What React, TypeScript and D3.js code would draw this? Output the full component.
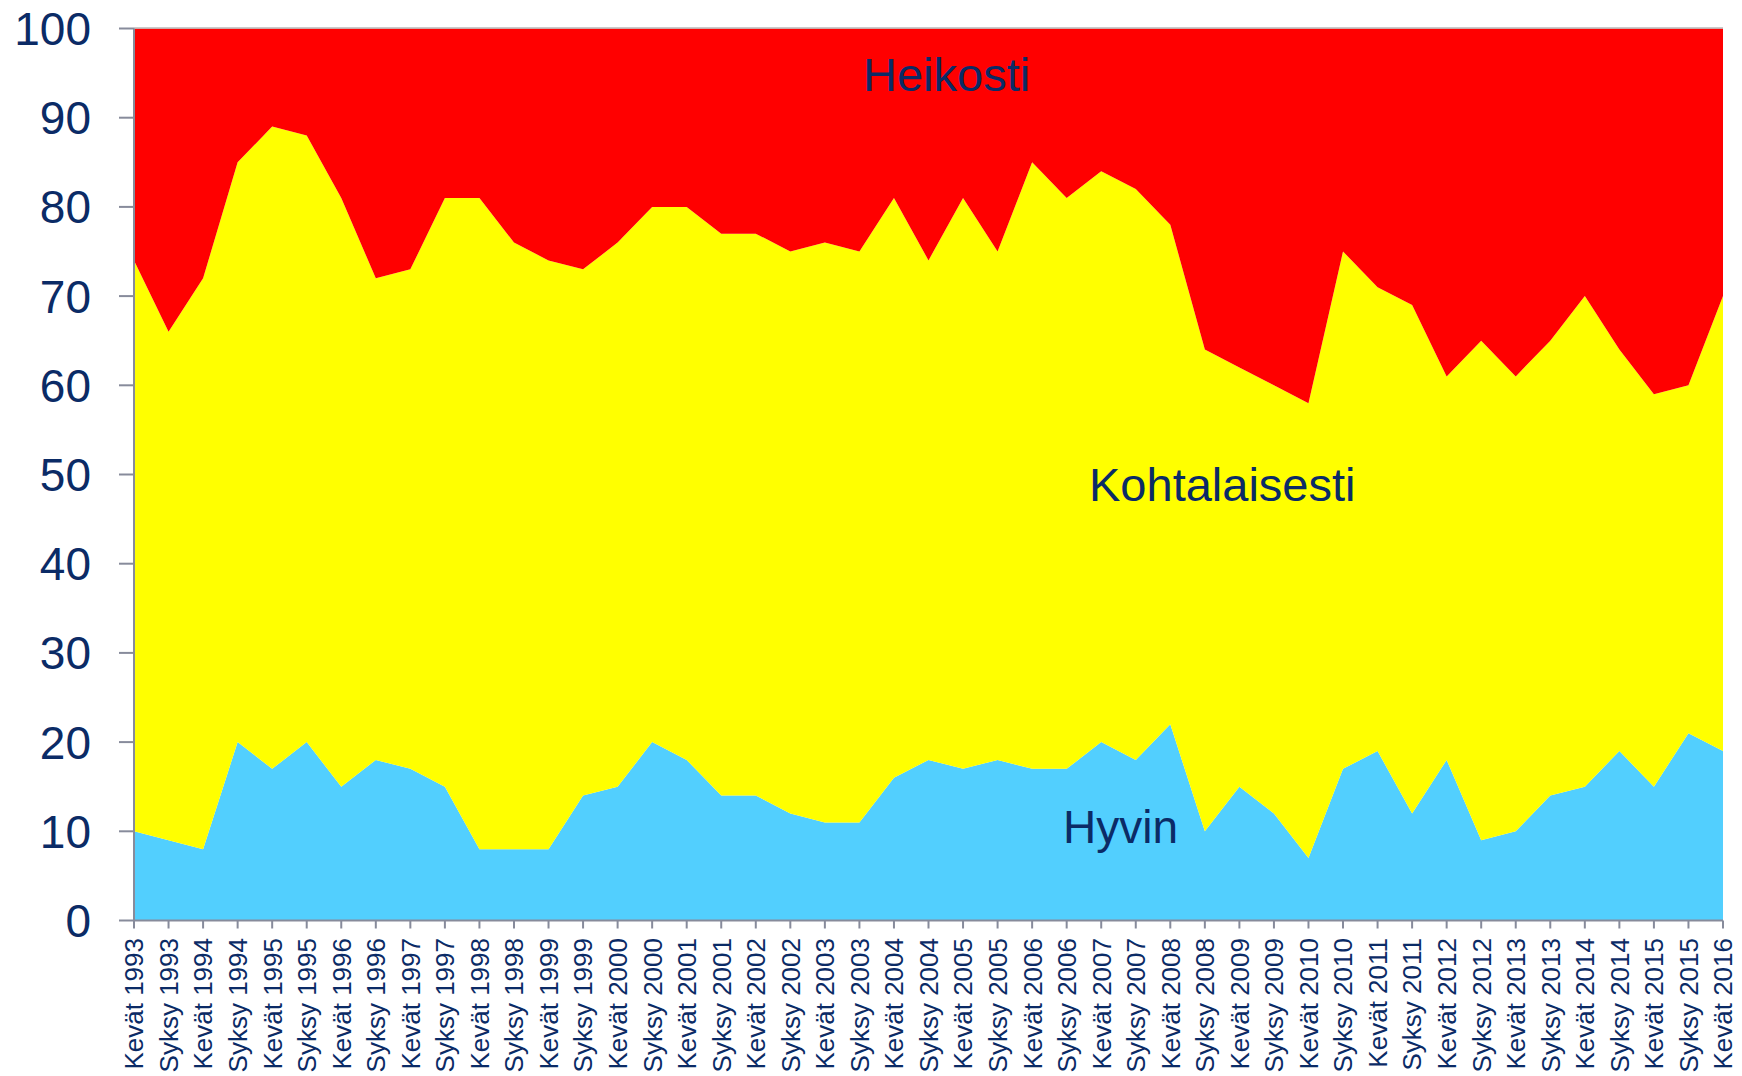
import React from "react";
import * as d3 from "d3";

const categories: string[] = [
  "Kevät 1993", "Syksy 1993", "Kevät 1994", "Syksy 1994", "Kevät 1995", "Syksy 1995",
  "Kevät 1996", "Syksy 1996", "Kevät 1997", "Syksy 1997", "Kevät 1998", "Syksy 1998",
  "Kevät 1999", "Syksy 1999", "Kevät 2000", "Syksy 2000", "Kevät 2001", "Syksy 2001",
  "Kevät 2002", "Syksy 2002", "Kevät 2003", "Syksy 2003", "Kevät 2004", "Syksy 2004",
  "Kevät 2005", "Syksy 2005", "Kevät 2006", "Syksy 2006", "Kevät 2007", "Syksy 2007",
  "Kevät 2008", "Syksy 2008", "Kevät 2009", "Syksy 2009", "Kevät 2010", "Syksy 2010",
  "Kevät 2011", "Syksy 2011", "Kevät 2012", "Syksy 2012", "Kevät 2013", "Syksy 2013",
  "Kevät 2014", "Syksy 2014", "Kevät 2015", "Syksy 2015", "Kevät 2016",
];

const hyvin: number[] = [
  10, 9, 8, 20, 17, 20, 15, 18, 17, 15, 8, 8, 8, 14, 15, 20, 18, 14, 14, 12, 11, 11, 16, 18,
  17, 18, 17, 17, 20, 18, 22, 10, 15, 12, 7, 17, 19, 12, 18, 9, 10, 14, 15, 19, 15, 21, 19,
];

const kohtalaisesti: number[] = [
  64, 57, 64, 65, 72, 68, 66, 54, 56, 66, 73, 68, 66, 59, 61, 60, 62, 63, 63, 63, 65, 64, 65, 56,
  64, 57, 68, 64, 64, 64, 56, 54, 47, 48, 51, 58, 52, 57, 43, 56, 51, 51, 55, 45, 44, 39, 51,
];

const heikosti: number[] = [
  26, 34, 28, 15, 11, 12, 19, 28, 27, 19, 19, 24, 26, 27, 24, 20, 20, 23, 23, 25, 24, 25, 19, 26,
  19, 25, 15, 19, 16, 18, 22, 36, 38, 40, 42, 25, 29, 31, 39, 35, 39, 35, 30, 36, 41, 40, 30,
];

const seriesKeys: string[] = ["Hyvin", "Kohtalaisesti", "Heikosti"];
const seriesColors: string[] = ["#52CFFE", "#FFFF00", "#FF0000"];
const yTicks: number[] = [0, 10, 20, 30, 40, 50, 60, 70, 80, 90, 100];

const W = 1742;
const H = 1076;
const M = { left: 134, right: 1723, top: 28.5, bottom: 920.5 };
const TEXT = "#0B2B66";
const AXIS = "#878B9B";
const FONT = "'Liberation Sans', Arial, sans-serif";

export default function App() {
  const rows = categories.map((c, i) => ({
    cat: c,
    Hyvin: hyvin[i],
    Kohtalaisesti: kohtalaisesti[i],
    Heikosti: heikosti[i],
  }));
  const stacked = d3.stack<any>().keys(seriesKeys)(rows);

  const x = d3.scalePoint<string>().domain(categories).range([M.left, M.right]);
  const y = d3.scaleLinear().domain([0, 100]).range([M.bottom, M.top]);

  const area = d3
    .area<any>()
    .x((d) => x(d.data.cat) as number)
    .y0((d) => y(d[0]))
    .y1((d) => y(Math.min(100, d[1])));

  return (
    <svg
      width={W}
      height={H}
      style={{ position: "absolute", left: 0, top: 0, background: "#fff" }}
      fontFamily={FONT}
    >
      {stacked.map((s, i) => (
        <path key={s.key} d={area(s) || ""} fill={seriesColors[i]} stroke="none" />
      ))}
      {/* top border line */}
      <line x1={M.left} x2={M.right} y1={y(100) - 0.5} y2={y(100) - 0.5} stroke="#B8B8B8" strokeWidth={1.5} />
      {/* Y axis */}
      <line x1={M.left} x2={M.left} y1={y(100)} y2={y(0)} stroke={AXIS} strokeWidth={2} />
      {yTicks.map((t) => (
        <g key={t}>
          <line x1={M.left - 15} x2={M.left} y1={y(t)} y2={y(t)} stroke={AXIS} strokeWidth={2} />
          <text
            x={91}
            y={y(t)}
            dy="0.36em"
            textAnchor="end"
            fontSize={46}
            fill={TEXT}
          >
            {t}
          </text>
        </g>
      ))}
      {/* X axis */}
      <line x1={M.left} x2={M.right} y1={y(0)} y2={y(0)} stroke={AXIS} strokeWidth={2} />
      {categories.map((c) => {
        const cx = x(c) as number;
        return (
          <g key={c}>
            <line x1={cx} x2={cx} y1={y(0)} y2={y(0) + 8} stroke={AXIS} strokeWidth={2} />
            <text
              transform={`translate(${cx},${938}) rotate(-90)`}
              dy="0.36em"
              textAnchor="end"
              fontSize={26}
              fill={TEXT}
            >
              {c}
            </text>
          </g>
        );
      })}
      {/* Series labels */}
      <text x={863} y={91} fontSize={47} fill={TEXT}>Heikosti</text>
      <text x={1089} y={501} fontSize={47} fill={TEXT}>Kohtalaisesti</text>
      <text x={1063} y={843} fontSize={46} fill={TEXT}>Hyvin</text>
    </svg>
  );
}
